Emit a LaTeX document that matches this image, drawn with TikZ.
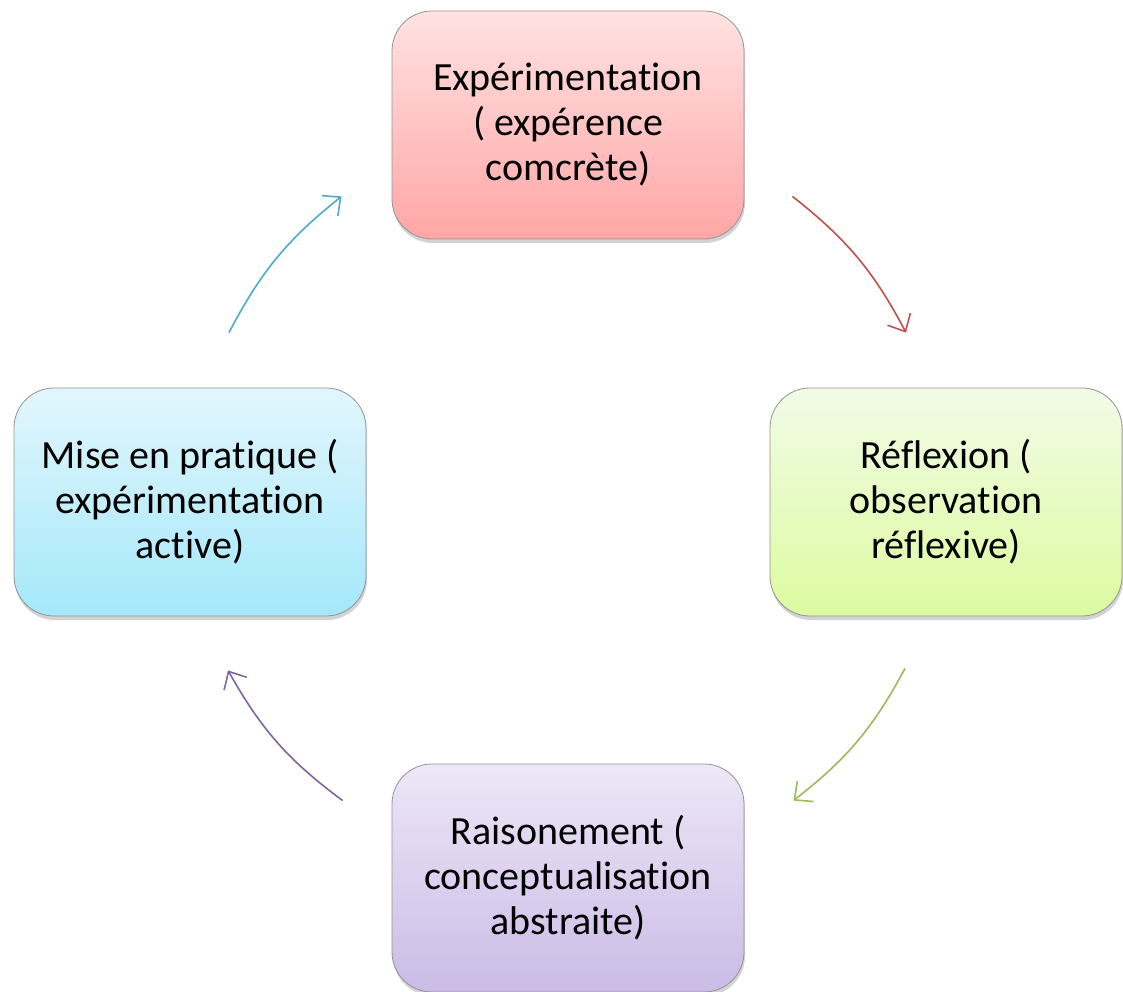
\documentclass[tikz,border=0pt]{standalone}
\usepackage{fontspec}
\setmainfont[Ligatures=NoCommon]{Carlito}
\usepackage{tikz}
\usetikzlibrary{arrows.meta}
\usetikzlibrary{positioning}
\usetikzlibrary{shadows}
\definecolor{exptop}{RGB}{255,226,226}
\definecolor{expbot}{RGB}{255,166,166}
\definecolor{reftop}{RGB}{242,251,230}
\definecolor{refbot}{RGB}{220,251,160}
\definecolor{raitop}{RGB}{237,231,247}
\definecolor{raibot}{RGB}{203,187,230}
\definecolor{mistop}{RGB}{226,246,252}
\definecolor{misbot}{RGB}{164,232,250}
\definecolor{arrred}{RGB}{192,80,77}
\definecolor{arrgreen}{RGB}{155,187,89}
\definecolor{arrpurple}{RGB}{128,100,162}
\definecolor{arrblue}{RGB}{75,172,198}

\begin{document}
\begin{tikzpicture}[x=1pt,y=1pt,
    stage/.style={rounded corners=40pt, draw=gray!85, line width=0.8pt,
      minimum width=352pt, minimum height=228pt, align=center,
      font=\fontsize{40}{45}\selectfont,
      drop shadow={shadow xshift=1pt, shadow yshift=-4pt, opacity=0.35}},
    stagearrow/.style={line width=1.6pt, -{Straight Barb[length=14pt, width=26pt]}}]
  \useasboundingbox (0,0) rectangle (1123,991);
  \node[stage, top color=exptop, bottom color=expbot] (exp) at (568,866)
    {Expérimentation\\( expérence\\comcrète)};
  \node[stage, top color=reftop, bottom color=refbot] (ref) at (946,489)
    {Réflexion (\\observation\\réflexive)};
  \node[stage, top color=raitop, bottom color=raibot] (rai) at (568,113)
    {Raisonement (\\conceptualisation\\abstraite)};
  \node[stage, top color=mistop, bottom color=misbot] (mis) at (190,489)
    {Mise en pratique (\\expérimentation\\active)};
  \coordinate[above right=43pt and 48pt of exp.south east] (r1);
  \coordinate[above left=55pt and 40pt of ref.north] (r2);
  \coordinate[below left=52pt and 41pt of ref.south] (g1);
  \coordinate[below right=37pt and 49pt of rai.north east] (g2);
  \coordinate[below left=37pt and 49pt of rai.north west] (p1);
  \coordinate[below right=54pt and 38pt of mis.south] (p2);
  \coordinate[above right=55pt and 39pt of mis.north] (b1);
  \coordinate[above left=43pt and 50pt of exp.south west] (b2);
  \draw[stagearrow, arrred] (r1) to[bend left=12] (r2);
  \draw[stagearrow, arrgreen] (g1) to[bend left=12] (g2);
  \draw[stagearrow, arrpurple] (p1) to[bend left=12] (p2);
  \draw[stagearrow, arrblue] (b1) to[bend left=12] (b2);
\end{tikzpicture}
\end{document}
